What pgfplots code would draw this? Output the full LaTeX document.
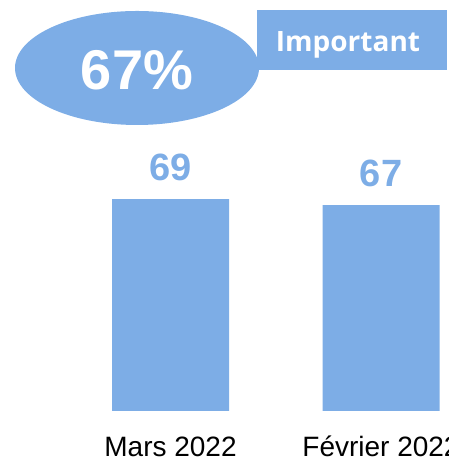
\documentclass[border=0pt]{standalone}
\usepackage{pgfplots}
\pgfplotsset{compat=1.18}
\usepackage{fontspec}
\setmainfont{Liberation Sans}
\newfontfamily\opensans{Open Sans}
\definecolor{cblue}{RGB}{125,173,230}
\begin{document}
\begin{tikzpicture}[x=1bp,y=1bp]
\useasboundingbox (0,0) rectangle (449,458);
\clip (0,0) rectangle (449,458);
\begin{axis}[
  at={(65.25bp,47bp)}, anchor=south west,
  scale only axis, width=421bp, height=399.4bp,
  xmin=-0.5, xmax=1.5, ymin=0, ymax=130,
  axis line style={draw=none},
  hide y axis,
  xtick={0,1}, xticklabels={Mars 2022, Février 2022},
  xtick style={draw=none},
  xticklabel style={anchor=base, inner sep=0pt, yshift=-41bp, font=\fontsize{28bp}{30bp}\selectfont, text=black},
  ybar, bar width=117bp,
  nodes near coords,
  every node near coord/.append style={anchor=south, inner sep=0pt, yshift=18bp, text=cblue, font=\fontsize{38bp}{40bp}\selectfont\bfseries},
  /pgf/number format/assume math mode=true,
  clip=false,
]
\addplot[fill=cblue, draw=none] coordinates {(0,69) (1,67)};
\end{axis}
\fill[cblue] (137,390) ellipse [x radius=122, y radius=57];
\fill[cblue] (257,388) rectangle (447,448);
\node[text=white, font=\fontsize{56bp}{58bp}\selectfont\bfseries] at (137,388) {67\%};
\node[text=white, font=\opensans\fontsize{28bp}{30bp}\selectfont\bfseries] at (348,413) {Important};
\end{tikzpicture}
\end{document}
